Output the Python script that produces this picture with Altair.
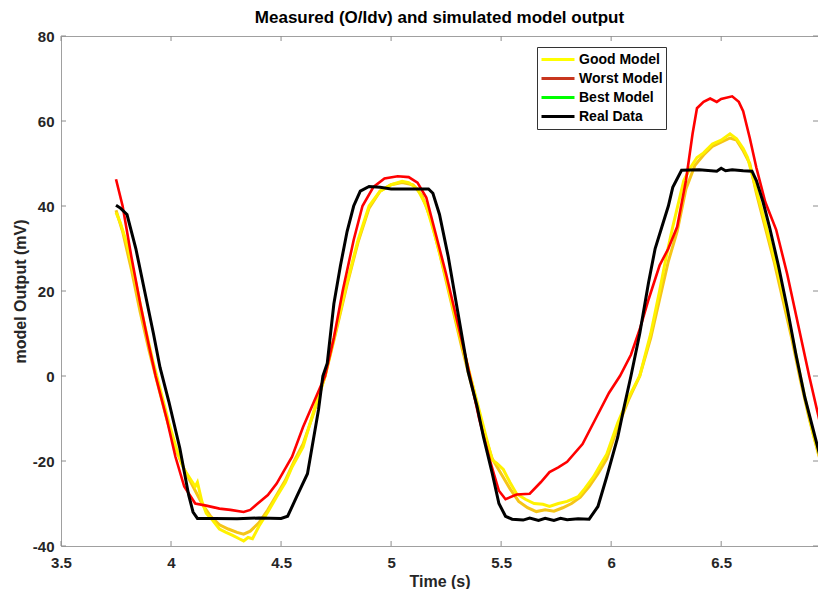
import altair as alt
import pandas as pd

# ---------------- data ----------------
real_x = [3.75, 3.77, 3.80, 3.84, 3.88, 3.92, 3.95, 3.99, 4.04, 4.08, 4.10, 4.12, 4.20, 4.30,
          4.40, 4.50, 4.53, 4.57, 4.62, 4.64, 4.67, 4.69, 4.71, 4.74, 4.77, 4.80, 4.83, 4.86,
          4.90, 4.95, 5.00, 5.10, 5.17, 5.19, 5.22, 5.26, 5.30, 5.35, 5.39, 5.42, 5.46, 5.49,
          5.52, 5.55, 5.60, 5.63, 5.67, 5.70, 5.74, 5.77, 5.80, 5.85, 5.90, 5.94, 5.98, 6.03,
          6.06, 6.09, 6.13, 6.17, 6.20, 6.23, 6.26, 6.28, 6.32, 6.40, 6.48, 6.50, 6.52, 6.55,
          6.60, 6.64, 6.66, 6.69, 6.72, 6.76, 6.80, 6.84, 6.88, 6.92, 6.96, 6.98]
real_y = [40.2, 39.5, 38.0, 30.0, 20.0, 10.0, 2.0, -6.0, -17.0, -28.0, -32.0, -33.5, -33.5, -33.6,
          -33.4, -33.5, -33.0, -28.5, -23.0, -17.0, -8.0, 0.0, 3.0, 17.0, 26.0, 34.0, 40.0, 43.5,
          44.6, 44.4, 44.0, 44.0, 44.0, 43.0, 38.0, 28.0, 16.0, 1.0, -7.0, -14.4, -23.0, -30.0,
          -33.0, -33.7, -33.9, -33.4, -34.0, -33.5, -34.0, -33.5, -33.8, -33.6, -33.7, -30.7, -23.7, -14.4,
          -7.0, 0.0, 10.0, 22.0, 30.0, 35.0, 40.0, 44.4, 48.4, 48.5, 48.2, 48.9, 48.3, 48.5,
          48.3, 48.2, 46.0, 41.0, 35.0, 26.0, 16.0, 5.0, -5.0, -13.0, -21.0, -25.0]

worst_x = [3.75, 3.78, 3.82, 3.86, 3.90, 3.93, 3.98, 4.02, 4.06, 4.11, 4.16, 4.22, 4.27, 4.33,
           4.36, 4.39, 4.44, 4.48, 4.55, 4.60, 4.65, 4.70, 4.74, 4.78, 4.83, 4.87, 4.92, 4.97,
           5.03, 5.08, 5.12, 5.16, 5.20, 5.25, 5.30, 5.35, 5.40, 5.45, 5.49, 5.52, 5.57, 5.63,
           5.68, 5.72, 5.76, 5.80, 5.87, 5.93, 5.99, 6.04, 6.09, 6.13, 6.17, 6.22, 6.26, 6.30,
           6.34, 6.37, 6.39, 6.42, 6.45, 6.48, 6.50, 6.55, 6.58, 6.60, 6.63, 6.66, 6.70, 6.75,
           6.80, 6.85, 6.90, 6.94, 6.98]
worst_y = [46.3, 40.0, 28.0, 17.0, 7.0, 0.0, -10.0, -19.0, -26.0, -30.0, -30.5, -31.2, -31.5, -32.0,
           -31.5, -30.2, -28.0, -25.3, -19.0, -12.0, -6.0, 0.0, 9.0, 20.0, 32.0, 40.0, 44.5, 46.5,
           47.0, 46.8, 45.5, 42.0, 34.0, 24.0, 13.0, 2.0, -10.0, -20.0, -27.0, -29.0, -27.9, -27.7,
           -25.0, -22.6, -21.5, -20.2, -16.0, -10.0, -4.0, 0.0, 5.0, 11.0, 18.0, 26.0, 30.0, 35.1,
           46.0, 57.0, 63.0, 64.5, 65.3, 64.5, 65.2, 65.8, 64.5, 62.3, 56.0, 49.0, 41.0, 34.4,
           24.0, 12.0, 0.0, -9.0, -18.0]

good_x = [3.75, 3.77, 3.80, 3.84, 3.88, 3.92, 3.95, 3.99, 4.03, 4.06, 4.09, 4.11, 4.12, 4.14,
          4.16, 4.19, 4.22, 4.25, 4.28, 4.31, 4.33, 4.35, 4.37, 4.40, 4.44, 4.48, 4.52, 4.55,
          4.60, 4.65, 4.70, 4.75, 4.80, 4.85, 4.90, 4.95, 5.00, 5.05, 5.08, 5.12, 5.16, 5.20,
          5.25, 5.30, 5.35, 5.40, 5.44, 5.46, 5.48, 5.51, 5.54, 5.57, 5.61, 5.65, 5.69, 5.72,
          5.76, 5.80, 5.85, 5.88, 5.92, 5.95, 5.98, 6.03, 6.08, 6.13, 6.18, 6.22, 6.25, 6.28,
          6.33, 6.36, 6.39, 6.42, 6.46, 6.50, 6.54, 6.57, 6.60, 6.62, 6.66, 6.69, 6.72, 6.76,
          6.80, 6.84, 6.88, 6.92, 6.96, 6.98]
good_y = [38.5, 36.0, 31.0, 22.0, 12.0, 3.0, -3.0, -11.0, -18.0, -22.0, -24.4, -26.0, -25.0, -29.5,
          -32.3, -34.0, -36.0, -36.8, -37.5, -38.3, -38.8, -38.0, -38.3, -35.3, -32.0, -28.4, -25.0, -21.4,
          -16.7, -8.0, 0.0, 11.0, 22.0, 32.0, 40.0, 43.5, 45.0, 45.8, 45.5, 44.0, 40.0, 33.0,
          23.0, 12.0, 2.0, -8.0, -16.0, -19.8, -20.5, -22.0, -25.0, -27.7, -29.0, -30.0, -30.2, -30.7,
          -30.0, -29.5, -28.4, -26.5, -23.7, -21.0, -18.4, -11.0, -5.0, 0.0, 10.0, 20.0, 28.0, 35.1,
          46.0, 49.0, 51.4, 52.5, 54.6, 55.5, 57.0, 55.8, 53.5, 51.4, 43.7, 38.0, 32.0, 24.0,
          15.0, 5.0, -5.0, -14.0, -21.0, -25.0]

gold_x = [3.75, 3.78, 3.82, 3.86, 3.90, 3.94, 3.98, 4.02, 4.06, 4.10, 4.14, 4.18, 4.22, 4.26,
          4.30, 4.33, 4.36, 4.40, 4.44, 4.48, 4.52, 4.56, 4.60, 4.65, 4.70, 4.75, 4.80, 4.85,
          4.90, 4.95, 5.00, 5.05, 5.10, 5.14, 5.18, 5.22, 5.27, 5.32, 5.37, 5.42, 5.46, 5.50,
          5.54, 5.58, 5.62, 5.66, 5.70, 5.74, 5.78, 5.82, 5.86, 5.90, 5.94, 5.98, 6.03, 6.08,
          6.13, 6.18, 6.22, 6.26, 6.30, 6.34, 6.38, 6.42, 6.46, 6.50, 6.54, 6.57, 6.60, 6.63,
          6.66, 6.70, 6.74, 6.78, 6.82, 6.86, 6.90, 6.94, 6.98]
gold_y = [39.0, 34.0, 25.0, 15.0, 6.0, -2.0, -10.0, -17.0, -22.0, -26.0, -30.0, -33.0, -35.0, -36.0,
          -36.8, -37.2, -36.5, -34.5, -31.5, -28.0, -24.5, -20.0, -16.0, -8.5, 0.0, 10.5, 21.5, 31.5,
          39.5, 43.5, 45.0, 45.5, 45.0, 42.5, 37.0, 29.0, 18.0, 7.0, -3.0, -13.0, -19.5, -23.0,
          -26.5, -29.5, -31.0, -31.9, -31.5, -31.8, -31.0, -30.0, -28.5, -26.0, -23.0, -19.5, -12.0, -5.5,
          0.0, 9.0, 18.0, 27.0, 34.0, 44.0, 49.5, 52.0, 54.0, 55.0, 56.0, 55.5, 53.0, 50.0,
          43.0, 35.0, 27.0, 18.0, 9.0, -1.0, -10.0, -18.0, -25.0]

legend_labels = ["Good Model", "Worst Model", "Best Model", "Real Data"]
legend_colors = ["#FFFF00", "#C8361E", "#00FF00", "#000000"]

x_ticks = [3.5, 4.0, 4.5, 5.0, 5.5, 6.0, 6.5]
y_ticks = [-40, -20, 0, 20, 40, 60, 80]

# ---------------- chart ----------------
W, H = 757, 510
FONT = "Liberation Sans"

xs = alt.Scale(domain=[3.5, 6.94], nice=False, zero=False)
ys = alt.Scale(domain=[-40, 80], nice=False, zero=False)

real_df = pd.DataFrame({"t": real_x, "v": real_y, "series": "Real Data"})
worst_df = pd.DataFrame({"t": worst_x, "v": worst_y})
good_df = pd.DataFrame({"t": good_x, "v": good_y})
gold_df = pd.DataFrame({"t": gold_x, "v": gold_y})
xt_df = pd.DataFrame({"t": x_ticks})
yt_df = pd.DataFrame({"v": y_ticks})

x_enc = alt.X("t:Q", scale=xs,
              axis=alt.Axis(values=x_ticks, title="Time (s)", labelExpr="datum.value + ''",
                            labelFlush=False, labelPadding=9, titlePadding=3))
y_enc = alt.Y("v:Q", scale=ys,
              axis=alt.Axis(values=y_ticks, title="model Output (mV)", labelExpr="datum.value + ''",
                            labelFlush=False, labelPadding=7, titlePadding=4))

gold = alt.Chart(gold_df).mark_line(color="#F5C518", strokeWidth=3, clip=True).encode(
    x=x_enc, y=y_enc, order="t:Q")
good = alt.Chart(good_df).mark_line(color="#FFF200", strokeWidth=3, clip=True).encode(
    x="t:Q", y="v:Q", order="t:Q")
worst = alt.Chart(worst_df).mark_line(color="#FF0000", strokeWidth=2.6, clip=True).encode(
    x="t:Q", y="v:Q", order="t:Q")
real = alt.Chart(real_df).mark_line(strokeWidth=3, clip=True).encode(
    x="t:Q", y="v:Q", order="t:Q",
    color=alt.Color("series:N",
                    scale=alt.Scale(domain=legend_labels, range=legend_colors),
                    legend=alt.Legend(title=None, orient="none", legendX=476, legendY=11,
                                      symbolType="stroke", symbolSize=1089, symbolStrokeWidth=3,
                                      clipHeight=19, rowPadding=0, labelOffset=3,
                                      labelFont=FONT, labelFontSize=14, labelFontWeight="bold",
                                      labelColor="#000000", fillColor="#FFFFFF",
                                      strokeColor="#333333", padding=3)))

tick_col = "#8c8c8c"
xt_bottom = alt.Chart(xt_df).mark_rule(color=tick_col, strokeWidth=1).encode(
    x="t:Q", y=alt.value(H), y2=alt.value(H - 5))
xt_top = alt.Chart(xt_df).mark_rule(color=tick_col, strokeWidth=1).encode(
    x="t:Q", y=alt.value(0), y2=alt.value(5))
yt_left = alt.Chart(yt_df).mark_rule(color=tick_col, strokeWidth=1).encode(
    y="v:Q", x=alt.value(0), x2=alt.value(5))
yt_right = alt.Chart(yt_df).mark_rule(color=tick_col, strokeWidth=1).encode(
    y="v:Q", x=alt.value(W), x2=alt.value(W - 5))

chart = alt.layer(gold, good, worst, real, xt_bottom, xt_top, yt_left, yt_right).properties(
    width=W, height=H,
    title=alt.TitleParams("Measured (O/Idv) and simulated model output", font=FONT,
                          fontSize=17, fontWeight="bold", color="#000000", offset=2,
                          anchor="middle", frame="group"),
    autosize=alt.AutoSizeParams(type="none"),
    padding={"left": 53, "top": 28, "right": 0, "bottom": 43},
).configure_view(
    stroke="#a0a0a0", strokeWidth=1
).configure_axis(
    grid=False, domain=False, ticks=False,
    labelFont=FONT, labelFontSize=15, labelFontWeight="bold", labelColor="#262626",
    titleFont=FONT, titleFontSize=16, titleFontWeight="bold", titleColor="#262626",
)

chart.save("out.html", embed_options={"renderer": "svg", "actions": False})
